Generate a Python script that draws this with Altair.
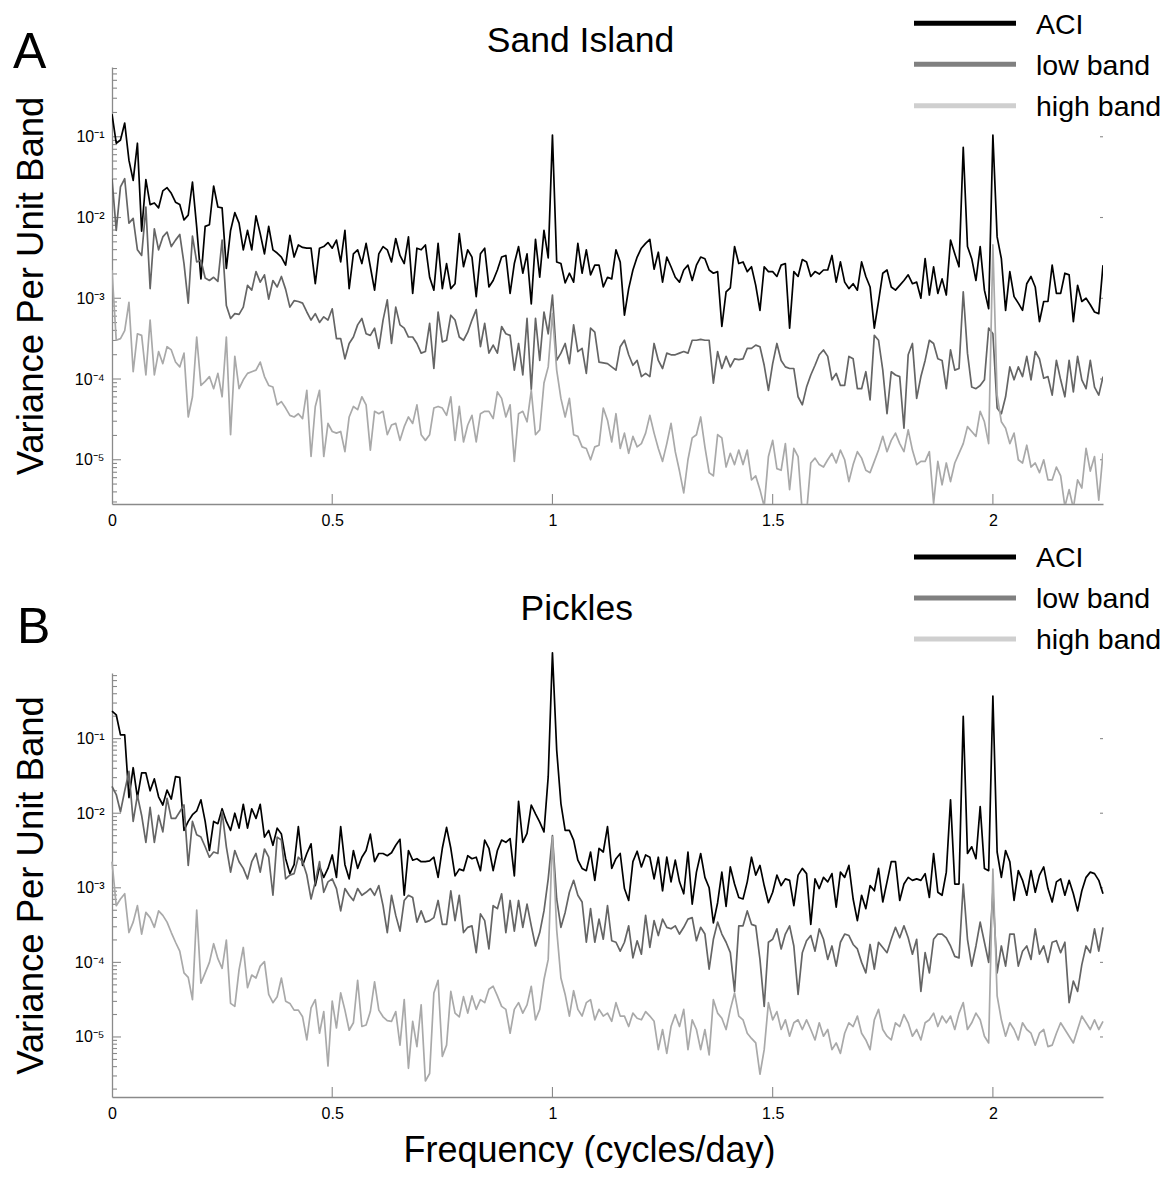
import altair as alt
import pandas as pd

FONT = "Liberation Sans"
FREQ_STEP = 1 / 104          # spectral resolution (cycles/day)
X_DOMAIN = [0, 2.25]
X_LABEL_VALUES = [0, 0.5, 1, 1.5, 2]
X_INNER_TICKS = [0.5, 1, 1.5, 2]
DECADES = [1e-6, 1e-5, 1e-4, 1e-3, 1e-2, 1e-1, 1e0]
LABELLED_DECADES = [1e-5, 1e-4, 1e-3, 1e-2, 1e-1]
MINOR_MULTIPLIERS = [2, 3, 4, 5, 6, 7, 8, 9]
SERIES = ["ACI", "low band", "high band"]
SERIES_COLORS = ["#000000", "#656565", "#a9a9a9"]
LEGEND_COLORS = ["#000000", "#808080", "#cfcfcf"]
AXIS_GRAY = "#8a8a8a"

# log10 of variance per unit band, one value per frequency bin (k / 104 cycles/day)
A_ACI_LOG10 = [
    -0.72, -1.08, -1.04, -0.83, -1.29, -1.54, -1.08, -2.17, -1.53, -1.84,
    -1.82, -1.88, -1.67, -1.63, -1.70, -1.81, -1.84, -2.03, -1.97, -1.56,
    -2.12, -2.76, -2.11, -2.09, -1.61, -1.87, -1.88, -2.63, -2.16, -1.94,
    -2.07, -2.40, -2.16, -2.40, -1.98, -2.20, -2.45, -2.11, -2.40, -2.44,
    -2.49, -2.59, -2.22, -2.49, -2.34, -2.37, -2.38, -2.38, -2.82, -2.38,
    -2.36, -2.31, -2.38, -2.28, -2.55, -2.16, -2.88, -2.45, -2.40, -2.57,
    -2.32, -2.61, -2.90, -2.45, -2.36, -2.40, -2.55, -2.26, -2.47, -2.57,
    -2.24, -2.94, -2.38, -2.40, -2.34, -2.74, -2.90, -2.32, -2.88, -2.57,
    -2.88, -2.82, -2.20, -2.61, -2.40, -2.49, -2.98, -2.45, -2.38, -2.86,
    -2.78, -2.65, -2.49, -2.47, -2.94, -2.57, -2.36, -2.69, -2.45, -3.07,
    -2.27, -2.74, -2.16, -2.50, -0.98, -2.55, -2.57, -2.81, -2.69, -2.80,
    -2.32, -2.69, -2.40, -2.71, -2.59, -2.59, -2.86, -2.74, -2.76, -2.40,
    -2.55, -3.21, -2.88, -2.65, -2.49, -2.38, -2.32, -2.27, -2.64, -2.43,
    -2.80, -2.49, -2.61, -2.74, -2.80, -2.65, -2.59, -2.78, -2.59, -2.49,
    -2.51, -2.65, -2.69, -2.67, -3.35, -2.92, -2.87, -2.36, -2.57, -2.55,
    -2.67, -2.61, -2.84, -3.15, -2.61, -2.67, -2.67, -2.73, -2.59, -2.57,
    -3.37, -2.67, -2.73, -2.52, -2.55, -2.73, -2.67, -2.70, -2.65, -2.65,
    -2.47, -2.80, -2.55, -2.80, -2.88, -2.82, -2.90, -2.55, -2.73, -2.86,
    -3.37, -3.04, -2.69, -2.65, -2.86, -2.90, -2.84, -2.78, -2.71, -2.82,
    -2.80, -3.00, -2.51, -2.96, -2.61, -2.94, -2.76, -2.96, -2.28, -2.45,
    -2.61, -1.13, -2.36, -2.51, -2.78, -2.36, -2.90, -3.13, -0.98, -2.24,
    -2.51, -3.15, -2.67, -2.98, -3.06, -3.15, -2.82, -2.73, -2.86, -3.29,
    -3.04, -3.04, -2.59, -2.94, -2.94, -2.69, -2.71, -3.29, -2.84, -3.04,
    -3.00, -3.08, -3.17, -3.19, -2.59,
]
A_LOW_LOG10 = [
    -1.52, -2.16, -1.62, -1.52, -2.07, -2.01, -2.40, -2.47, -1.87, -2.88,
    -2.14, -2.40, -2.24, -2.18, -2.36, -2.28, -2.21, -2.57, -3.06, -2.23,
    -2.55, -2.53, -2.75, -2.78, -2.74, -2.79, -2.28, -3.09, -3.25, -3.19,
    -3.20, -3.11, -2.84, -2.90, -2.67, -2.80, -2.71, -3.01, -2.78, -2.86,
    -2.73, -2.89, -3.11, -3.03, -3.04, -3.06, -3.17, -3.27, -3.19, -3.30,
    -3.23, -3.27, -3.13, -3.50, -3.50, -3.75, -3.56, -3.48, -3.33, -3.25,
    -3.44, -3.46, -3.37, -3.62, -3.27, -3.02, -3.56, -3.11, -3.33, -3.37,
    -3.48, -3.48, -3.56, -3.68, -3.66, -3.31, -3.87, -3.17, -3.54, -3.52,
    -3.21, -3.27, -3.48, -3.52, -3.42, -3.27, -3.14, -3.60, -3.31, -3.68,
    -3.58, -3.68, -3.35, -3.44, -3.46, -3.89, -3.56, -3.95, -3.25, -4.13,
    -3.25, -3.77, -3.17, -3.44, -2.96, -3.77, -3.68, -3.56, -3.81, -3.33,
    -3.66, -3.62, -3.93, -3.37, -3.42, -3.79, -3.80, -3.81, -3.85, -3.89,
    -3.60, -3.52, -3.70, -3.83, -3.77, -3.97, -3.93, -3.97, -3.56, -3.77,
    -3.87, -3.68, -3.70, -3.70, -3.68, -3.66, -3.68, -3.52, -3.52, -3.51,
    -3.52, -3.52, -4.05, -3.66, -3.87, -3.72, -3.85, -3.75, -3.76, -3.75,
    -3.62, -3.62, -3.58, -3.60, -3.83, -4.14, -3.81, -3.56, -3.77, -3.85,
    -3.87, -3.87, -4.22, -4.32, -4.10, -3.95, -3.83, -3.70, -3.64, -3.72,
    -4.01, -3.93, -4.08, -4.08, -3.72, -3.75, -4.12, -4.12, -3.91, -4.26,
    -3.46, -3.52, -3.89, -4.43, -3.91, -3.95, -3.97, -4.61, -3.70, -3.56,
    -4.24, -3.97, -3.77, -3.52, -3.56, -3.75, -3.77, -4.12, -3.64, -3.89,
    -3.87, -2.92, -3.68, -4.10, -4.12, -4.08, -4.01, -3.37, -3.44, -4.36,
    -4.43, -4.22, -3.85, -4.01, -3.85, -3.97, -3.72, -4.01, -3.66, -3.75,
    -3.99, -3.97, -4.20, -3.77, -4.01, -4.22, -3.77, -4.16, -3.72, -4.01,
    -4.12, -3.77, -4.10, -4.20, -3.97,
]
A_HIGH_LOG10 = [
    -2.65, -3.52, -3.50, -3.40, -3.05, -3.91, -3.44, -3.46, -3.95, -3.27,
    -3.95, -3.66, -3.81, -3.60, -3.64, -3.79, -3.85, -3.68, -4.47, -4.22,
    -3.48, -4.08, -4.03, -3.97, -4.12, -3.93, -4.22, -3.48, -4.69, -3.72,
    -4.12, -4.01, -3.93, -3.91, -3.89, -3.79, -3.97, -4.08, -4.10, -4.32,
    -4.28, -4.36, -4.45, -4.47, -4.43, -4.49, -4.14, -4.96, -4.34, -4.14,
    -4.96, -4.55, -4.65, -4.67, -4.65, -4.90, -4.47, -4.34, -4.38, -4.22,
    -4.32, -4.88, -4.40, -4.43, -4.40, -4.69, -4.57, -4.55, -4.76, -4.59,
    -4.47, -4.55, -4.32, -4.69, -4.76, -4.69, -4.36, -4.34, -4.36, -4.45,
    -4.22, -4.76, -4.34, -4.78, -4.57, -4.45, -4.78, -4.43, -4.40, -4.40,
    -4.49, -4.16, -4.24, -4.47, -4.32, -5.02, -4.43, -4.40, -4.53, -4.14,
    -4.69, -4.63, -4.05, -3.85, -3.19, -3.89, -4.24, -4.47, -4.24, -4.69,
    -4.71, -4.84, -4.86, -5.00, -4.84, -4.82, -4.36, -4.51, -4.78, -4.43,
    -4.86, -4.67, -4.92, -4.71, -4.84, -4.80, -4.67, -4.45, -4.67, -4.86,
    -5.02, -4.80, -4.55, -4.90, -5.14, -5.41, -5.00, -4.73, -4.69, -4.47,
    -4.84, -5.16, -5.20, -4.69, -4.73, -5.09, -4.92, -5.06, -4.88, -5.06,
    -4.88, -5.25, -5.20, -5.37, -5.58, -4.96, -4.76, -5.11, -5.13, -4.80,
    -5.37, -4.86, -4.96, -5.66, -5.66, -5.04, -4.98, -5.06, -5.09, -5.00,
    -4.92, -5.04, -4.88, -5.00, -5.27, -5.06, -4.90, -4.98, -5.13, -5.16,
    -5.02, -4.88, -4.71, -4.90, -4.76, -4.67, -4.80, -4.90, -4.63, -4.88,
    -5.06, -5.02, -5.02, -4.90, -5.54, -5.02, -5.31, -5.04, -5.27, -5.04,
    -4.92, -4.80, -4.59, -4.65, -4.71, -4.40, -4.53, -4.80, -2.34, -4.20,
    -4.53, -4.61, -4.80, -4.67, -5.00, -5.04, -4.82, -5.09, -5.04, -5.16,
    -5.00, -5.25, -5.25, -5.09, -5.20, -5.58, -5.37, -5.60, -5.25, -5.35,
    -4.86, -5.14, -4.96, -5.50, -4.92,
]
B_ACI_LOG10 = [
    -0.63, -0.68, -0.95, -0.95, -1.79, -1.39, -1.79, -1.46, -1.46, -1.70,
    -1.54, -1.78, -1.89, -1.69, -1.81, -1.51, -1.52, -2.23, -2.11, -2.02,
    -1.97, -1.82, -2.11, -2.50, -2.11, -2.14, -1.94, -2.11, -2.23, -2.00,
    -2.20, -1.88, -2.20, -1.94, -2.07, -1.88, -2.32, -2.23, -2.43, -2.20,
    -2.28, -2.61, -2.81, -2.69, -2.18, -2.70, -2.54, -2.41, -2.97, -2.72,
    -2.86, -2.74, -2.56, -2.86, -2.18, -2.69, -2.88, -2.50, -2.74, -2.59,
    -2.50, -2.28, -2.65, -2.54, -2.54, -2.57, -2.53, -2.43, -2.35, -3.10,
    -2.50, -2.63, -2.61, -2.65, -2.65, -2.64, -2.59, -2.86, -2.47, -2.19,
    -2.47, -2.84, -2.75, -2.77, -2.57, -2.61, -2.59, -2.77, -2.36, -2.47,
    -2.77, -2.50, -2.36, -2.39, -2.34, -2.84, -1.84, -2.39, -2.27, -1.89,
    -2.01, -2.12, -2.25, -1.51, 0.15, -1.15, -1.87, -2.23, -2.23, -2.36,
    -2.63, -2.74, -2.77, -2.52, -2.90, -2.47, -2.52, -2.18, -2.74, -2.61,
    -2.54, -3.01, -3.17, -2.65, -2.51, -2.72, -2.56, -2.59, -2.88, -2.59,
    -3.04, -2.59, -2.92, -2.63, -2.92, -3.08, -2.52, -3.22, -2.79, -2.54,
    -2.86, -3.00, -3.47, -3.20, -2.79, -3.25, -2.72, -2.95, -3.13, -3.15,
    -2.92, -2.59, -2.83, -2.70, -2.97, -3.20, -3.06, -2.83, -2.97, -2.88,
    -2.90, -3.24, -2.83, -2.74, -2.81, -3.49, -2.88, -3.01, -2.86, -2.92,
    -2.81, -3.26, -2.79, -2.86, -2.70, -3.15, -3.44, -3.10, -3.28, -2.97,
    -3.04, -2.74, -3.19, -2.92, -2.65, -2.65, -3.17, -2.95, -2.86, -2.90,
    -2.88, -2.90, -2.81, -3.13, -2.54, -3.06, -3.10, -2.79, -1.82, -2.95,
    -2.95, -0.70, -2.54, -2.45, -2.61, -1.91, -2.74, -2.77, -0.43, -2.52,
    -2.86, -2.50, -2.65, -3.17, -2.77, -2.90, -3.10, -2.77, -3.06, -2.83,
    -2.72, -3.01, -3.19, -2.92, -2.88, -3.10, -2.90, -3.08, -3.31, -3.04,
    -2.86, -2.79, -2.81, -2.90, -3.08,
]
B_LOW_LOG10 = [
    -1.64, -1.75, -1.98, -1.70, -1.44, -2.11, -1.76, -2.03, -2.39, -1.92,
    -2.39, -2.03, -2.25, -1.80, -2.07, -2.07, -1.98, -1.89, -2.70, -2.11,
    -2.29, -2.32, -2.45, -2.59, -2.52, -2.54, -1.98, -2.45, -2.79, -2.50,
    -2.65, -2.74, -2.88, -2.65, -2.54, -2.79, -2.48, -2.59, -3.10, -2.32,
    -2.36, -2.88, -2.83, -2.81, -2.59, -2.65, -2.83, -3.15, -2.92, -2.65,
    -3.06, -2.92, -2.88, -3.01, -3.31, -3.01, -3.10, -3.17, -3.01, -3.10,
    -3.06, -3.01, -3.10, -2.97, -3.24, -3.60, -3.10, -3.37, -3.58, -3.17,
    -3.10, -3.13, -3.46, -3.31, -3.46, -3.44, -3.40, -3.17, -3.49, -3.49,
    -3.04, -3.44, -3.10, -3.60, -3.53, -3.51, -3.87, -3.35, -3.44, -3.82,
    -3.24, -3.28, -3.08, -3.60, -3.17, -3.58, -3.17, -3.53, -3.22, -3.51,
    -3.78, -3.60, -3.31, -2.88, -2.30, -3.15, -3.53, -3.33, -3.06, -2.90,
    -3.10, -3.19, -3.73, -3.28, -3.73, -3.42, -3.69, -3.24, -3.71, -3.73,
    -3.85, -3.73, -3.51, -3.94, -3.71, -3.89, -3.37, -3.80, -3.44, -3.64,
    -3.42, -3.53, -3.55, -3.51, -3.62, -3.53, -3.42, -3.40, -3.71, -3.53,
    -3.62, -4.09, -3.69, -3.46, -3.62, -3.73, -3.87, -4.39, -3.51, -3.51,
    -3.31, -3.49, -3.51, -3.96, -4.59, -3.73, -3.69, -3.55, -3.82, -3.62,
    -3.51, -3.78, -4.43, -3.87, -3.71, -3.64, -3.85, -3.55, -3.69, -3.96,
    -3.78, -4.05, -3.73, -3.62, -3.64, -3.76, -3.82, -4.00, -4.14, -3.76,
    -4.09, -3.73, -3.80, -3.87, -3.69, -3.53, -3.67, -3.51, -3.67, -3.89,
    -3.69, -4.39, -3.87, -4.14, -3.69, -3.62, -3.62, -3.67, -3.78, -3.92,
    -3.94, -2.95, -3.69, -4.05, -3.78, -3.46, -3.73, -4.00, -3.05, -4.14,
    -3.78, -4.05, -3.62, -3.62, -4.05, -3.85, -3.78, -3.96, -3.55, -3.89,
    -3.78, -4.00, -3.73, -3.71, -3.87, -3.73, -4.54, -4.25, -4.39, -4.03,
    -3.78, -3.87, -3.55, -3.85, -3.53,
]
B_HIGH_LOG10 = [
    -2.65, -3.24, -3.15, -3.08, -3.60, -3.46, -3.24, -3.62, -3.33, -3.40,
    -3.53, -3.31, -3.37, -3.46, -3.60, -3.73, -3.85, -4.14, -4.20, -4.50,
    -3.30, -4.28, -4.14, -4.00, -3.75, -3.95, -4.08, -3.70, -4.55, -4.59,
    -4.10, -3.80, -4.34, -4.17, -4.21, -4.05, -3.99, -4.43, -4.54, -4.46,
    -4.21, -4.52, -4.55, -4.64, -4.64, -4.73, -5.04, -4.61, -4.50, -4.95,
    -4.66, -5.39, -4.52, -4.88, -4.41, -4.64, -4.91, -4.81, -4.24, -4.86,
    -4.84, -4.66, -4.26, -4.64, -4.73, -4.78, -4.79, -4.66, -5.11, -4.50,
    -5.42, -4.79, -5.13, -4.57, -5.59, -5.49, -4.41, -4.24, -5.26, -5.11,
    -4.39, -4.68, -4.73, -4.46, -4.68, -4.45, -4.63, -4.50, -4.54, -4.36,
    -4.32, -4.45, -4.59, -4.63, -4.95, -4.63, -4.54, -4.68, -4.57, -4.32,
    -4.77, -4.63, -4.23, -3.96, -2.32, -3.56, -4.21, -4.43, -4.72, -4.38,
    -4.63, -4.72, -4.54, -4.50, -4.77, -4.63, -4.72, -4.68, -4.79, -4.54,
    -4.72, -4.72, -4.86, -4.68, -4.75, -4.77, -4.66, -4.72, -4.79, -5.17,
    -4.90, -5.22, -4.86, -4.70, -4.86, -4.63, -5.17, -4.77, -4.90, -5.17,
    -4.90, -5.24, -4.50, -4.68, -4.75, -4.90, -4.63, -4.41, -4.72, -4.77,
    -4.95, -5.02, -5.08, -5.50, -5.17, -4.54, -4.77, -4.66, -4.90, -4.77,
    -4.99, -4.81, -4.77, -4.90, -4.77, -4.90, -5.04, -4.81, -4.99, -4.90,
    -5.17, -5.08, -5.22, -4.95, -4.81, -4.86, -4.72, -4.95, -5.04, -5.17,
    -4.77, -4.63, -4.90, -4.99, -5.04, -4.81, -4.86, -4.70, -4.81, -4.99,
    -4.90, -5.04, -4.81, -4.77, -4.68, -4.86, -4.72, -4.81, -4.72, -4.90,
    -4.68, -4.54, -4.90, -4.81, -4.68, -4.77, -4.99, -5.08, -2.75, -4.45,
    -4.77, -4.99, -4.81, -4.90, -5.04, -4.81, -4.90, -4.95, -5.11, -4.95,
    -4.90, -5.13, -5.11, -4.95, -4.81, -4.90, -4.99, -5.08, -4.90, -4.72,
    -4.81, -4.90, -4.77, -4.90, -4.79,
]

PLOT_W = 991
SUPERSCRIPT_LABEL = (
    "'10\u207b' + ['\u2070','\u00b9','\u00b2','\u00b3','\u2074','\u2075','\u2076']"
    "[round(-log(datum.value) / LN10)]"
)


def spectrum_frame(aci, low, high):
    rows = []
    for name, vals in zip(SERIES, (aci, low, high)):
        for k, v in enumerate(vals):
            rows.append({"freq": k * FREQ_STEP, "value": 10 ** v, "series": name})
    return pd.DataFrame(rows)


def panel(aci, low, high, ylog_lo, ylog_hi, height, title, title_pos, letter,
          letter_pos, legend_rows_y, x_title, clip, bounds_marker):
    df = spectrum_frame(aci, low, high)
    ylo, yhi = 10 ** ylog_lo, 10 ** ylog_hi
    xscale = alt.Scale(domain=X_DOMAIN, nice=False, zero=False)
    yscale = alt.Scale(type="log", domain=[ylo, yhi], nice=False)

    x_axis_kw = dict(
        values=X_LABEL_VALUES, format="~g", labelFontSize=16, labelColor="black",
        labelPadding=8, ticks=False, tickSize=0, domainColor=AXIS_GRAY,
        domainWidth=1.3, grid=False, labelFlush=False, labelOverlap=False,
        labelFont=FONT,
    )
    if x_title:
        x_axis_kw.update(title=x_title, titleFontSize=36, titleFontWeight="normal",
                         titleColor="black", titleX=477, titleY=64, titleFont=FONT,
                         titleBaseline="alphabetic", titleAlign="center")
    else:
        x_axis_kw.update(title=None)
    x_axis = alt.Axis(**x_axis_kw)
    y_axis = alt.Axis(
        values=LABELLED_DECADES, labelExpr=SUPERSCRIPT_LABEL, labelFontSize=16,
        labelColor="black", labelPadding=8, ticks=False, tickSize=0,
        domainColor=AXIS_GRAY, domainWidth=1.3, grid=False, labelFlush=False,
        labelOverlap=False, labelFont=FONT, title="Variance Per Unit Band",
        titleFontSize=36.5, titleFont=FONT, titleFontWeight="normal",
        titleColor="black", titleAngle=270, titleX=-70, titleY=height / 2,
        titleAlign="center", titleBaseline="alphabetic",
    )
    color = alt.Color("series:N", scale=alt.Scale(domain=SERIES, range=SERIES_COLORS),
                      legend=None)

    minor_vals = [m * d for d in DECADES for m in MINOR_MULTIPLIERS if ylo <= m * d <= yhi]
    major_vals = [d for d in DECADES if ylo <= d <= yhi]
    minor_df = pd.DataFrame({"v": minor_vals})
    major_df = pd.DataFrame({"v": major_vals})
    xt_df = pd.DataFrame({"t": X_INNER_TICKS})

    def yv():
        return alt.Y("v:Q", scale=yscale, axis=y_axis)

    layers = []
    layers.append(alt.Chart(minor_df).mark_rule(color=AXIS_GRAY, strokeWidth=1.1).encode(
        y=yv(), x=alt.value(0), x2=alt.value(5)))
    layers.append(alt.Chart(major_df).mark_rule(color=AXIS_GRAY, strokeWidth=1.1).encode(
        y=yv(), x=alt.value(0), x2=alt.value(9)))
    layers.append(alt.Chart(major_df).mark_rule(color=AXIS_GRAY, strokeWidth=1.1).encode(
        y=yv(), x=alt.value(PLOT_W - 3), x2=alt.value(PLOT_W)))
    layers.append(alt.Chart(xt_df).mark_rule(color=AXIS_GRAY, strokeWidth=1.1).encode(
        x=alt.X("t:Q", scale=xscale, axis=x_axis), y=alt.value(height),
        y2=alt.value(height - 10)))

    for name in SERIES:
        layers.append(
            alt.Chart(df).transform_filter(alt.datum.series == name)
            .mark_line(clip=clip, strokeJoin="round", strokeWidth=1.7)
            .encode(
                x=alt.X("freq:Q", scale=xscale, axis=x_axis),
                y=alt.Y("value:Q", scale=yscale, axis=y_axis),
                color=color,
            )
        )

    # legend: a thick line sample and the series name for each row
    for i, name in enumerate(SERIES):
        ry = legend_rows_y[i]
        entry = pd.DataFrame({"series": [name]})
        layers.append(alt.Chart(entry).mark_rule(
            color=LEGEND_COLORS[i], strokeWidth=5, strokeCap="butt"
        ).encode(x=alt.value(802), x2=alt.value(904), y=alt.value(ry)))
        layers.append(alt.Chart(entry).mark_text(
            font=FONT, fontSize=28.5, align="left", baseline="alphabetic", color="black"
        ).encode(x=alt.value(924), y=alt.value(ry + 10.3), text="series:N"))

    layers.append(alt.Chart(pd.DataFrame({"t": [title]})).mark_text(
        font=FONT, fontSize=35.5, align="center", baseline="alphabetic", color="black"
    ).encode(x=alt.value(title_pos[0]), y=alt.value(title_pos[1]), text="t:N"))
    layers.append(alt.Chart(pd.DataFrame({"t": [letter]})).mark_text(
        font=FONT, fontSize=50, align="left", baseline="alphabetic", color="black"
    ).encode(x=alt.value(letter_pos[0]), y=alt.value(letter_pos[1]), text="t:N"))
    if bounds_marker:
        layers.append(alt.Chart(pd.DataFrame({"t": [0]})).mark_rule(
            color="white", strokeOpacity=0
        ).encode(x=alt.value(-104), x2=alt.value(-100), y=alt.value(-59), y2=alt.value(-55)))

    return alt.layer(*layers).properties(width=PLOT_W, height=height)


panel_a = panel(A_ACI_LOG10, A_LOW_LOG10, A_HIGH_LOG10, -5.548, -0.136, 437,
                "Sand Island", (468.5, -15), "A", (-99, 1), [-43.7, -2.7, 38.7],
                None, True, True)
panel_b = panel(B_ACI_LOG10, B_LOW_LOG10, B_HIGH_LOG10, -5.805, -0.12, 424,
                "Pickles", (464.7, -53), "B", (-95, -30), [-116, -75, -34],
                "Frequency (cycles/day)", False, False)

chart = (
    alt.vconcat(panel_a, panel_b, spacing=169, bounds="flush")
    .resolve_scale(x="independent", y="independent", color="independent")
    .properties(padding=0)
    .configure(font=FONT)
    .configure_view(stroke=None)
)

chart.save("out.html", embed_options={"renderer": "svg", "actions": False})
